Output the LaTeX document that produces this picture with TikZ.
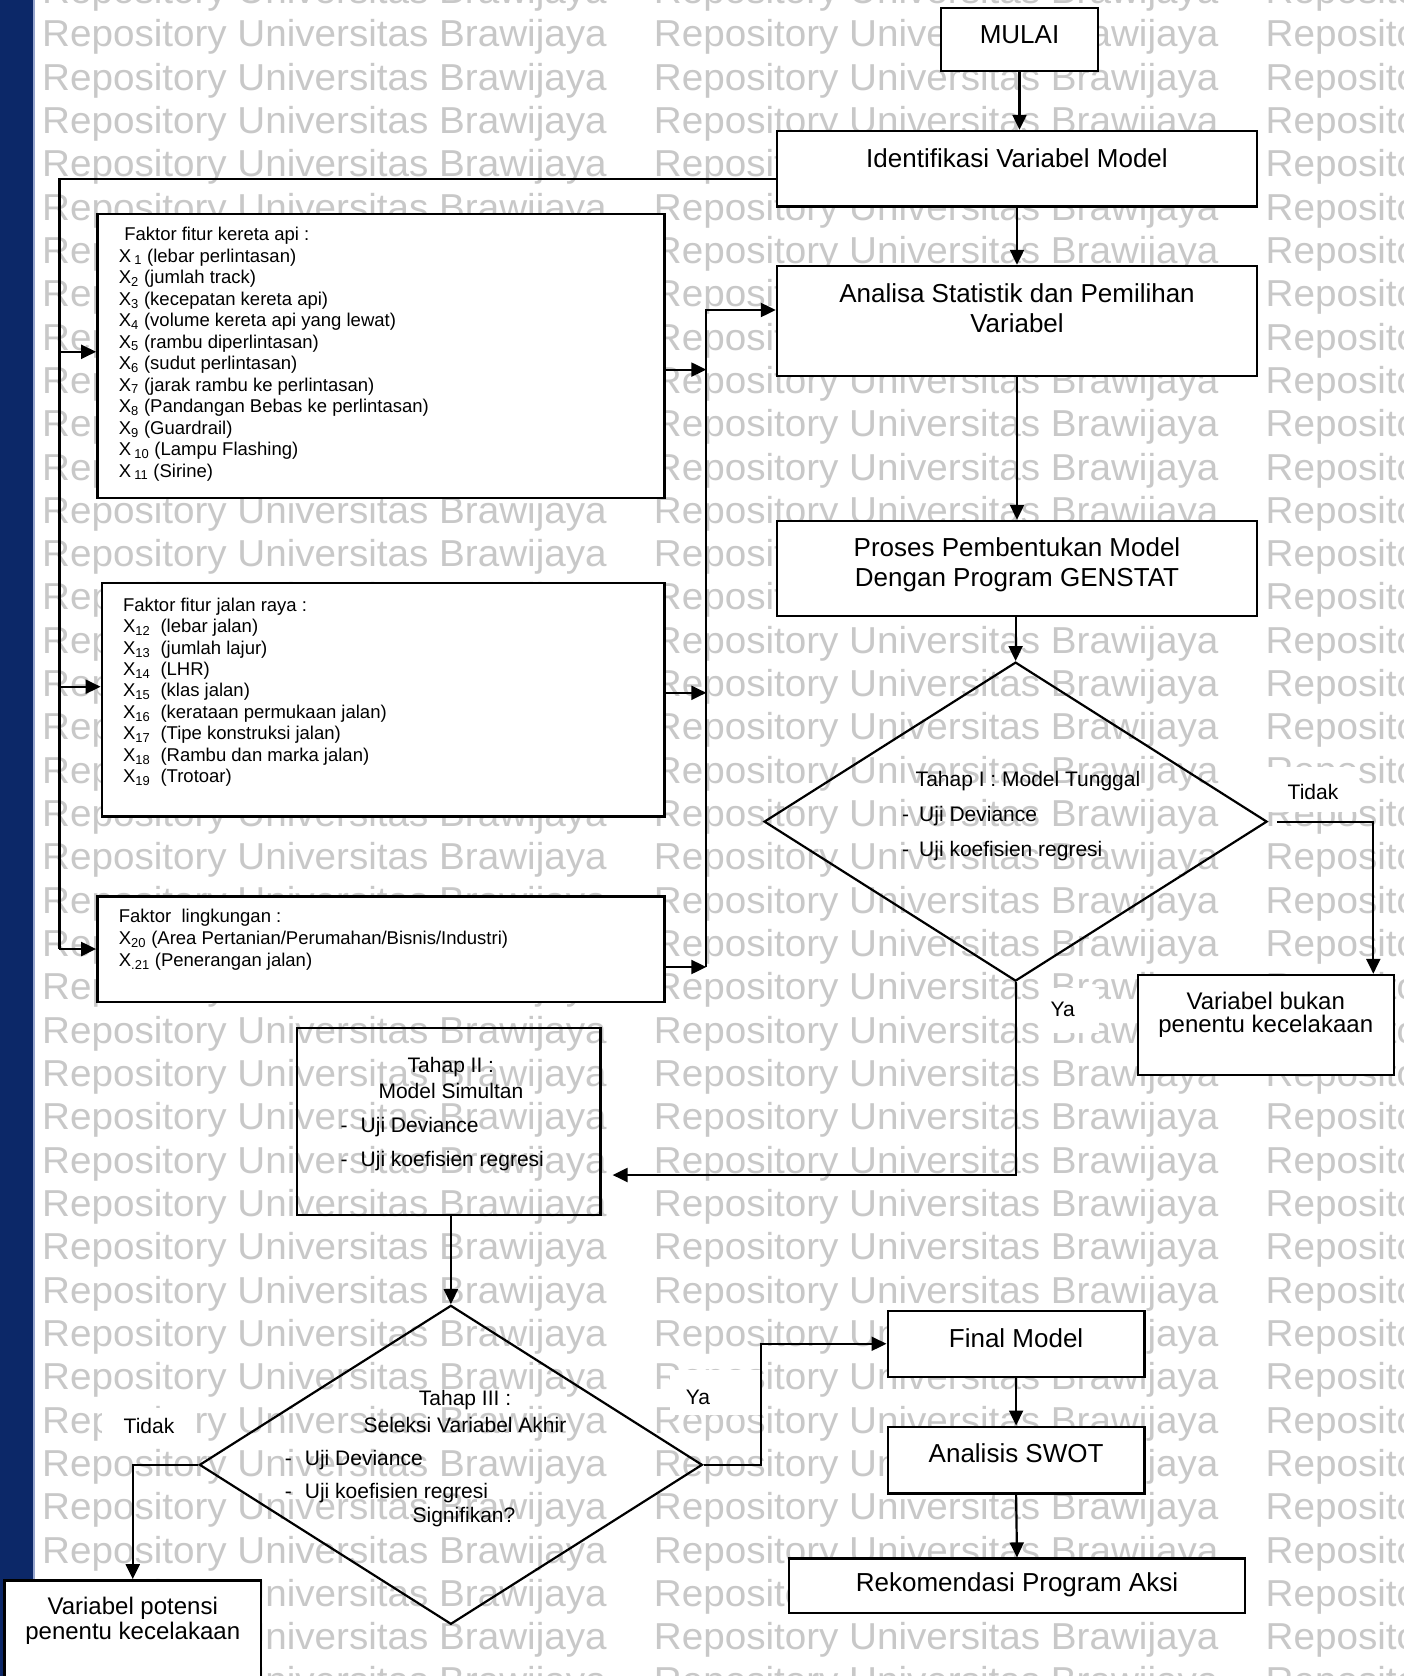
\documentclass[tikz,border=0pt]{standalone}
\usepackage{fontspec}
\setmainfont{Liberation Sans}
\usetikzlibrary{arrows.meta,shapes.geometric}
\definecolor{barblue}{RGB}{12,40,104}
\definecolor{baredge}{RGB}{150,165,205}
\definecolor{wmgray}{RGB}{200,200,200}

\begin{document}
\begin{tikzpicture}[x=1pt,y=-1pt,
  conn/.style={line width=2.2pt},
  arr/.style={conn,-{Triangle[length=15pt,width=14pt]}},
  box/.style={draw,line width=2.4pt,fill=white,inner sep=0pt},
  openbox/.style={draw,line width=2.4pt,inner sep=0pt},
  dec/.style={diamond,draw,line width=2.2pt,inner sep=0pt,
              minimum width=503pt,minimum height=319pt},
  big/.style={font=\fontsize{26}{30}\selectfont,inner sep=0pt,anchor=base},
  mid/.style={font=\fontsize{24}{28}\selectfont,inner sep=0pt,anchor=base},
  sml/.style={font=\fontsize{21}{25}\selectfont,inner sep=0pt,anchor=base},
  lst/.style={font=\fontsize{18.5}{21}\selectfont,inner sep=0pt,anchor=base west},
  wm/.style={font=\fontsize{37.5}{40}\selectfont,text=wmgray,inner sep=0pt,anchor=base west},
]
\useasboundingbox (0,0) rectangle (1404,1676);
\clip (0,0) rectangle (1404,1676);

% page background and side bar
\fill[white] (0,0) rectangle (1404,1676);
\fill[barblue] (0,0) rectangle (33.3,1676);
\fill[baredge] (33.3,0) rectangle (35,1676);

% repository watermark
\foreach \c/\cx in {0/42,1/653.75,2/1265.5}
  \foreach \r in {0,...,39}
    \node[wm] (wm-\c-\r) at (\cx,{3.37+43.33*\r})
      {\scalebox{1.03}[1]{Repository Universitas Brawijaya}};

% white patches behind the branch labels
\fill[white] (1263,767) rectangle (1357,812);
\fill[white] (1039,988) rectangle (1099,1033);
\fill[white] (670,1370) rectangle (760,1415);
\fill[white] (102,1408) rectangle (197,1446);

% main column
\node[box,minimum width=157pt,minimum height=63pt] (mulai) at (1019.5,39.5) {};
\node[big] (t-mulai) at (1019.5,43.9) {MULAI};

\node[box,minimum width=480pt,minimum height=75.4pt] (ident) at (1017,168.7) {};
\node[big] (t-ident) at (1017,167.1) {Identifikasi Variabel Model};

\node[box,minimum width=480pt,minimum height=110pt] (analisa) at (1017,321) {};
\node[big] (t-analisa1) at (1017,302.8) {Analisa Statistik dan Pemilihan};
\node[big] (t-analisa2) at (1017,332.3) {Variabel};

\node[box,minimum width=480pt,minimum height=95pt] (proses) at (1017,568.5) {};
\node[big] (t-proses1) at (1017,556.3) {Proses Pembentukan Model};
\node[big] (t-proses2) at (1017,586.6) {Dengan Program GENSTAT};

\node[dec] (d1) at (1015.6,821.6) {};
\node[sml] (d1-t) at (1028,786.8) {Tahap I : Model Tunggal};
\node[sml,anchor=base west] (d1-a) at (902,821.4) {-\hspace{10pt}Uji Deviance};
\node[sml,anchor=base west] (d1-b) at (902,856.4) {-\hspace{10pt}Uji koefisien regresi};

\node[box,minimum width=256pt,minimum height=100pt] (bukan) at (1265.75,1025) {};
\node[mid] (t-bukan1) at (1265.75,1009.2) {Variabel bukan};
\node[mid] (t-bukan2) at (1265.75,1032.5) {penentu kecelakaan};

% factor boxes
\node[box,minimum width=567pt,minimum height=284pt] (f1) at (380.8,356.25) {};
\foreach \t [count=\i from 0] in {
  {\hspace{5.4pt}Faktor fitur kereta api :},
  {X\,\textsubscript{1} (lebar perlintasan)},
  {X\textsubscript{2} (jumlah track)},
  {X\textsubscript{3} (kecepatan kereta api)},
  {X\textsubscript{4} (volume kereta api yang lewat)},
  {X\textsubscript{5} (rambu diperlintasan)},
  {X\textsubscript{6} (sudut perlintasan)},
  {X\textsubscript{7} (jarak rambu ke perlintasan)},
  {X\textsubscript{8} (Pandangan Bebas ke perlintasan)},
  {X\textsubscript{9} (Guardrail)},
  {X\,\textsubscript{10} (Lampu Flashing)},
  {X\,\textsubscript{11} (Sirine)}}
  \node[lst] (f1-\i) at (118.7,{240.5+21.5*\i}) {\t};

\node[box,minimum width=562.5pt,minimum height=233.2pt] (f2) at (383.05,699.8) {};
\foreach \t [count=\i from 0] in {
  {Faktor fitur jalan raya :},
  {X\textsubscript{12}\ \ (lebar jalan)},
  {X\textsubscript{13}\ \ (jumlah lajur)},
  {X\textsubscript{14}\ \ (LHR)},
  {X\textsubscript{15}\ \ (klas jalan)},
  {X\textsubscript{16}\ \ (kerataan permukaan jalan)},
  {X\textsubscript{17}\ \ (Tipe konstruksi jalan)},
  {X\textsubscript{18}\ \ (Rambu dan marka jalan)},
  {X\textsubscript{19}\ \ (Trotoar)}}
  \node[lst] (f2-\i) at (122.8,{611.2+21.4*\i}) {\t};

\node[box,minimum width=567pt,minimum height=105.6pt] (f3) at (380.8,949.2) {};
\foreach \t [count=\i from 0] in {
  {Faktor\ \ lingkungan :},
  {X\textsubscript{20} (Area Pertanian/Perumahan/Bisnis/Industri)},
  {X\textsubscript{.21} (Penerangan jalan)}}
  \node[lst] (f3-\i) at (118.7,{922.8+21.8*\i}) {\t};

% second stage
\node[openbox,minimum width=303.4pt,minimum height=187.3pt] (tahap2) at (448.7,1121.35) {};
\node[sml] (t2-a) at (450.9,1072.4) {Tahap II :};
\node[sml] (t2-b) at (450.9,1098.5) {Model Simultan};
\node[sml,anchor=base west] (t2-c) at (340.5,1132.4) {-\hspace{13pt}Uji Deviance};
\node[sml,anchor=base west] (t2-d) at (340.5,1166.2) {-\hspace{13pt}Uji koefisien regresi};

% third stage
\node[dec] (d2) at (450.9,1464.8) {};
\node[sml] (d2-t1) at (465,1405.4) {Tahap III :};
\node[sml] (d2-t2) at (465,1432.5) {Seleksi Variabel Akhir};
\node[sml,anchor=base west] (d2-a) at (284.7,1465.1) {-\hspace{13pt}Uji Deviance};
\node[sml,anchor=base west] (d2-b) at (284.7,1498.8) {-\hspace{13pt}Uji koefisien regresi};
\node[sml] (d2-c) at (464,1522.4) {Signifikan?};

\node[box,minimum width=256.5pt,minimum height=119.7pt] (potensi) at (132.75,1640.15) {};
\node[mid] (t-potensi1) at (132.75,1614.4) {Variabel potensi};
\node[mid] (t-potensi2) at (132.75,1639.1) {penentu kecelakaan};

\node[box,minimum width=256.8pt,minimum height=65.9pt] (final) at (1016.1,1343.75) {};
\node[big] (t-final) at (1016.1,1347.3) {Final Model};

\node[box,minimum width=256.8pt,minimum height=66.7pt] (swot) at (1016.1,1460.05) {};
\node[big] (t-swot) at (1016.1,1462.6) {Analisis SWOT};

\node[box,minimum width=456pt,minimum height=54.4pt] (rekom) at (1017,1585.8) {};
\node[big] (t-rekom) at (1017,1591.1) {Rekomendasi Program Aksi};

% branch labels
\node[sml] (l-tidak1) at (1313,799.5) {Tidak};
\node[sml] (l-ya1) at (1062.8,1016.1) {Ya};
\node[sml] (l-ya2) at (698,1404) {Ya};
\node[sml] (l-tidak2) at (149,1433.2) {Tidak};

% connectors of the main column
\draw[arr] (mulai.south) -- (mulai.south |- ident.north);
\draw[arr] (ident.south) -- (analisa.north);
\draw[arr] (analisa.south) -- (proses.north);
\draw[arr] (d1.north |- proses.south) -- (d1.north);

% distribution bus to the factor boxes
\coordinate (busTop) at (59.4,178.6);
\coordinate (busBot) at (59.4,949);
\coordinate (in1) at (59.4,351.8);
\coordinate (in2) at (59.4,686.7);
\draw[conn] (busTop -| ident.west) -- (busTop) -- (busBot);
\draw[arr] (in1) -- (in1 -| f1.west);
\draw[arr] (in2) -- (in2 -| f2.west);
\draw[arr] (busBot) -- (busBot -| f3.west);

% collecting line into the statistics step
\coordinate (colTop) at (706.3,310);
\coordinate (o1) at (706.3,369.6);
\coordinate (o2) at (706.3,692.8);
\coordinate (o3) at (706.3,967);
\draw[arr] (o1 -| f1.east) -- (o1);
\draw[arr] (o2 -| f2.east) -- (o2);
\draw[arr] (o3 -| f3.east) -- (o3);
\draw[arr] (o3) -- (colTop) -- (colTop -| analisa.west);

% first decision
\coordinate (tdk) at (1373.3,821.6);
\draw[arr] ([xshift=9pt]d1.east) -- (tdk) -- (tdk |- bukan.north);
\coordinate (yaA) at (1015.6,1175);
\draw[arr,shorten >=11pt] (d1.south) -- (yaA) -- (yaA -| tahap2.east);

% second and third stage
\draw[arr] (d2.north |- tahap2.south) -- (d2.north);
\draw[arr] (d2.west) -| (potensi.north);
\coordinate (yaB) at (760.6,1464.8);
\draw[arr] (d2.east) -- (yaB) |- (final.west);
\draw[arr] (final.south) -- (swot.north);
\draw[arr] (swot.south) -- (rekom.north);
\end{tikzpicture}
\end{document}
